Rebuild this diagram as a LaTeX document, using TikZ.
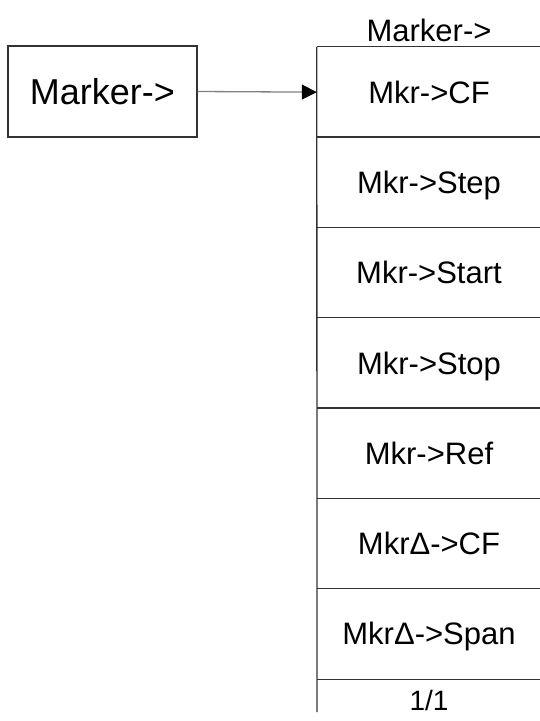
\documentclass[tikz,border=0pt]{standalone}
\usepackage{fontspec}
\setmainfont{Liberation Sans}
\usetikzlibrary{arrows.meta}
\begin{document}
\begin{tikzpicture}[x=1pt,y=-1pt]
\tikzset{menuline/.style={line width=1.3pt,draw=black!80},
         keybox/.style={menuline,minimum width=189pt,minimum height=91pt,inner sep=0pt,
                        text height=26pt,text depth=0pt,font=\fontsize{36}{36}\selectfont},
         menuitem/.style={minimum width=224pt,minimum height=90.3pt,inner sep=0pt,
                          text height=22pt,text depth=0pt,font=\fontsize{31}{31}\selectfont}}
\def\colx{429}\def\rowh{90.3}\def\topy{47}
\useasboundingbox (0,0) rectangle (539,721);
% Soft key
\node[keybox] (key) at (102.5,91.5) {Marker->};
% Menu title
\node[menuitem,minimum height=0pt] (title) at (\colx,30) {Marker->};
% Menu items
\foreach \i/\txt in {0/Mkr->CF,1/Mkr->Step,2/Mkr->Start,3/Mkr->Stop,4/Mkr->Ref,5/MkrΔ->CF,6/MkrΔ->Span}{
  \node[menuitem] (item\i) at (\colx,\topy+\i*\rowh+0.5*\rowh) {\txt};
  \draw[menuline] (item\i.north west)--(item\i.north east);
}
\draw[menuline] (item6.south west)--(item6.south east);
% Page number
\node[menuitem,minimum height=0pt,text height=20pt,font=\fontsize{28}{28}\selectfont] (page) at (\colx,700) {1/1};
\coordinate (colend) at (317,712);
\draw[menuline] (item0.north west)--(colend);
% Arrow
\draw[line width=1.3pt,draw=gray,-{Triangle[length=15pt,width=15pt,color=black,fill=black]}] (key.east)--(item0.west);
\end{tikzpicture}
\end{document}
